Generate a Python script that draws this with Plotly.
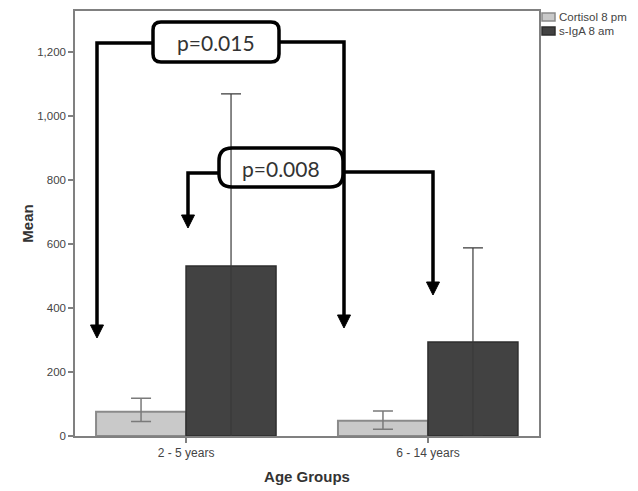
import plotly.graph_objects as go

# ---- data ----
categories = ["2 - 5 years", "6 - 14 years"]
series_names = ["Cortisol 8 pm", "s-IgA 8 am"]
cortisol_mean = [76, 48]
cortisol_err_plus = [42, 30]
cortisol_err_minus = [31, 27]
siga_mean = [531, 294]
siga_err = [538, 294]
y_ticks = [0, 200, 400, 600, 800, 1000, 1200]
p_labels = ["p=0.015", "p=0.008"]

# ---- layout geometry (pixels) ----
W, H = 638, 491
L, R, T, B = 75, 99, 11, 55
PX0, PX1, PY0, PY1 = L, W - R, T, H - B

COL_CORT = "#c9c9c9"
EDGE_CORT = "#8a8a8a"
COL_SIGA = "#424242"
EDGE_SIGA = "#2e2e2e"


def px(x, y):
    return (x - PX0) / (PX1 - PX0), (PY1 - y) / (PY1 - PY0)


fig = go.Figure()
fig.add_trace(go.Bar(
    x=categories, y=cortisol_mean, name=series_names[0],
    marker=dict(color=COL_CORT, line=dict(color=EDGE_CORT, width=2)),
    error_y=dict(type="data", symmetric=False, array=cortisol_err_plus,
                 arrayminus=cortisol_err_minus, color="#7a7a7a",
                 thickness=1.5, width=10),
))
fig.add_trace(go.Bar(
    x=categories, y=siga_mean, name=series_names[1],
    marker=dict(color=COL_SIGA, line=dict(color=EDGE_SIGA, width=1.5)),
    error_y=dict(type="data", array=siga_err, color="#3a3a3a",
                 thickness=1.2, width=10),
))

shapes = []
LW = 3.5


def polyline(points):
    pts = [px(*p) for p in points]
    d = "M {:.5f} {:.5f} ".format(*pts[0]) + " ".join(
        "L {:.5f} {:.5f}".format(*p) for p in pts[1:])
    shapes.append(dict(type="path", path=d, xref="paper", yref="paper",
                       line=dict(color="black", width=LW), layer="above"))


def arrowhead(x, ytip, w=6.5, h=13):
    pts = [px(x, ytip), px(x - w, ytip - h), px(x + w, ytip - h)]
    d = "M {:.5f} {:.5f} L {:.5f} {:.5f} L {:.5f} {:.5f} Z".format(
        *pts[0], *pts[1], *pts[2])
    shapes.append(dict(type="path", path=d, xref="paper", yref="paper",
                       fillcolor="black", line=dict(color="black", width=1),
                       layer="above"))


def rounded_box(x0, y0, x1, y1, r):
    P = lambda a, b: "{:.5f} {:.5f}".format(*px(a, b))
    d = ("M " + P(x0 + r, y0) + " L " + P(x1 - r, y0) + " Q " + P(x1, y0) + " " + P(x1, y0 + r) +
         " L " + P(x1, y1 - r) + " Q " + P(x1, y1) + " " + P(x1 - r, y1) +
         " L " + P(x0 + r, y1) + " Q " + P(x0, y1) + " " + P(x0, y1 - r) +
         " L " + P(x0, y0 + r) + " Q " + P(x0, y0) + " " + P(x0 + r, y0) + " Z")
    shapes.append(dict(type="path", path=d, xref="paper", yref="paper",
                       line=dict(color="black", width=LW), layer="above"))


# bracket 1 (p=0.015)
polyline([(97, 326), (97, 43), (153, 43)])
polyline([(279, 42), (344, 42), (344, 316)])
arrowhead(97, 338)
arrowhead(344, 328)
rounded_box(153, 22, 279, 62, 8)

# bracket 2 (p=0.008)
polyline([(188, 216), (188, 173), (219, 173)])
polyline([(343, 172), (433, 172), (433, 283)])
arrowhead(188, 228)
arrowhead(433, 295)
rounded_box(219, 148, 343, 187, 13)

annotations = []
for label, (cx, cy) in zip(p_labels, [(216, 42), (281, 168)]):
    ax_, ay_ = px(cx, cy)
    annotations.append(dict(text=label, x=ax_, y=ay_, xref="paper", yref="paper",
                            showarrow=False, xanchor="center", yanchor="middle",
                            font=dict(family="Lato, Carlito, sans-serif", size=21,
                                      color="#333333")))

# manual compact legend (SPSS style)
for i, (name, fc, ec) in enumerate(zip(series_names, [COL_CORT, COL_SIGA],
                                        [EDGE_CORT, EDGE_SIGA])):
    yc = 17 + 14 * i
    x0, y0 = px(542, yc - 4)
    x1, y1 = px(555, yc + 4)
    shapes.append(dict(type="rect", xref="paper", yref="paper",
                       x0=x0, x1=x1, y0=y1, y1=y0, fillcolor=fc,
                       line=dict(color=ec, width=1.5)))
    tx, ty = px(557, yc)
    annotations.append(dict(text=name, x=tx, y=ty, xref="paper", yref="paper",
                            showarrow=False, xanchor="left", yanchor="middle",
                            font=dict(size=11.5, color="#444444")))

fig.update_layout(
    width=W, height=H,
    margin=dict(l=L, r=R, t=T, b=B, pad=0, autoexpand=False),
    paper_bgcolor="white", plot_bgcolor="white",
    barmode="group", bargap=0.256, bargroupgap=0,
    font=dict(family="Liberation Sans, Arial, sans-serif", size=12, color="#444444"),
    shapes=shapes, annotations=annotations,
    showlegend=False,
)
fig.update_xaxes(
    type="category", range=[-0.459, 1.459],
    showline=True, linecolor="#808080", linewidth=1.5, mirror=True,
    ticks="outside", ticklen=5, tickcolor="#808080", tickwidth=1.5,
    tickfont=dict(size=12, color="#444444"),
    title=dict(text="<b>Age Groups</b>", font=dict(size=15, color="#333333"), standoff=12),
    showgrid=False, automargin=False,
)
fig.update_yaxes(
    range=[0, (PY1 - PY0) / 0.32],
    tickvals=y_ticks, tickformat=",d",
    showline=True, linecolor="#808080", linewidth=1.5, mirror=True,
    ticks="outside", ticklen=5, tickcolor="#808080", tickwidth=1.5,
    tickfont=dict(size=11.5, color="#444444"),
    title=dict(text="<b>Mean</b>", font=dict(size=15, color="#333333"), standoff=0),
    showgrid=False, zeroline=False, automargin=False,
)

fig.write_html("out.html", config={"displayModeBar": False},
               post_script="document.body.style.margin='0px';document.body.style.overflow='hidden';")
